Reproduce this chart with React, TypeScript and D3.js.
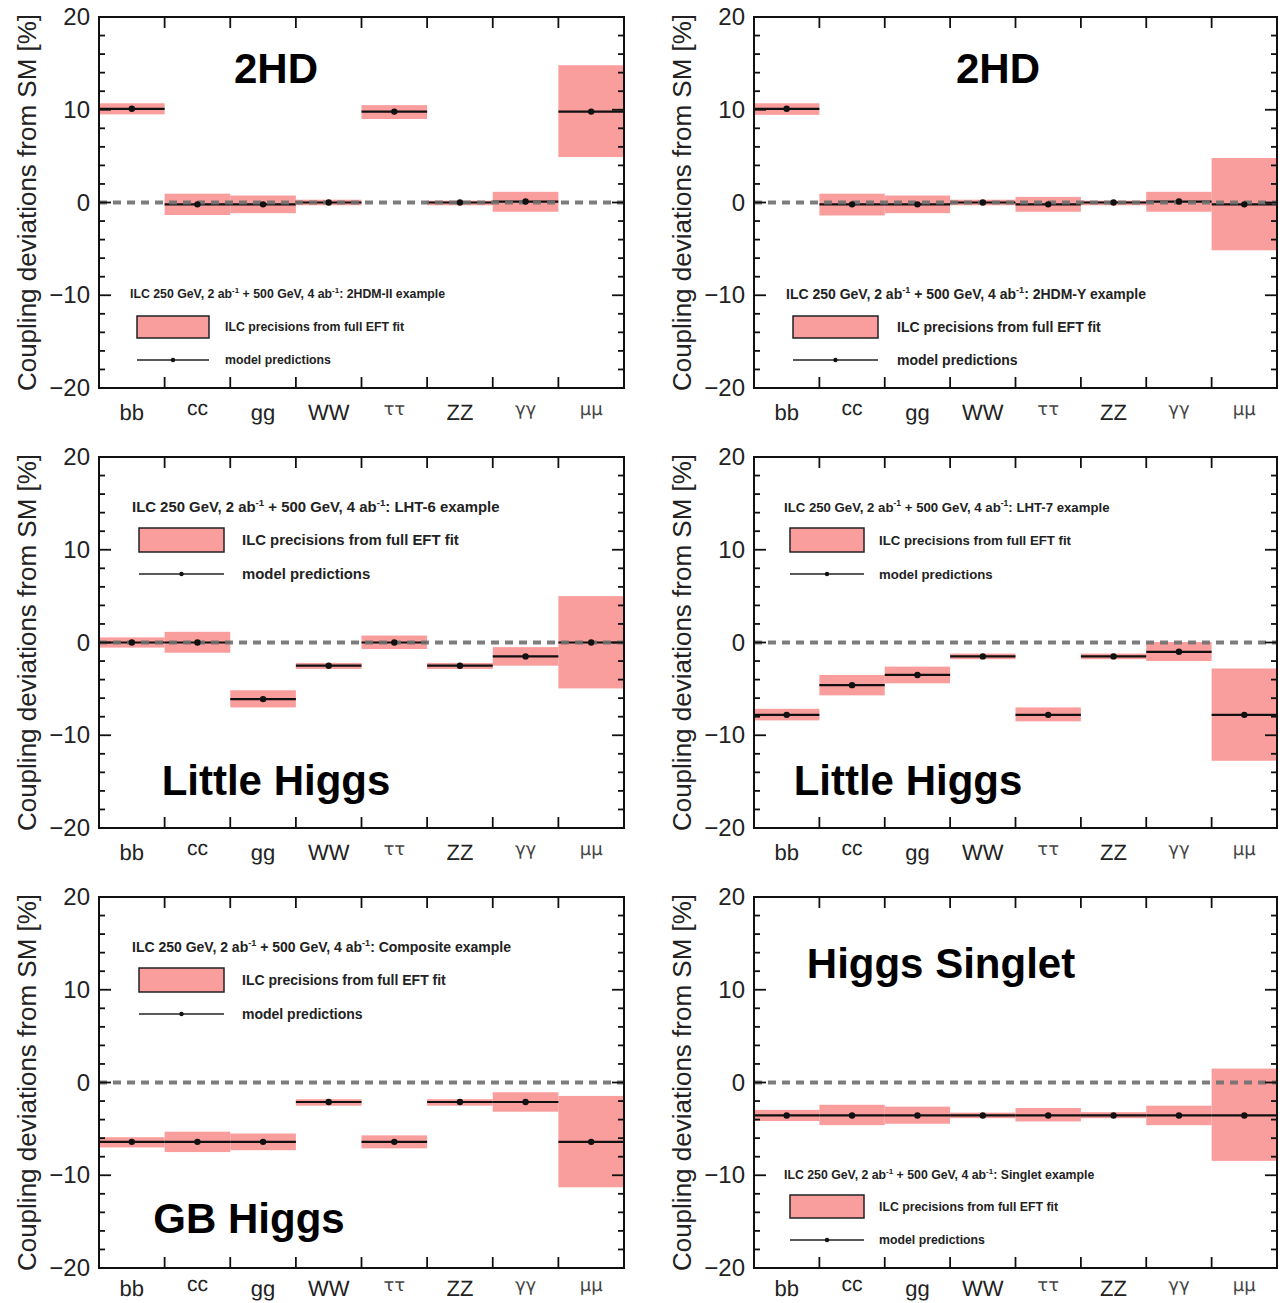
import React, { useEffect, useRef } from "react";
import * as d3 from "d3";

// coupling channels on the x axis
const categories = ["bb", "cc", "gg", "WW", "ττ", "ZZ", "γγ", "μμ"];
const yTicks = [20, 10, 0, -10, -20];

// 2HDM-II example
const pred2hdmII = [10.1, -0.2, -0.2, 0, 9.8, 0, 0.1, 9.8];
const low2hdmII = [9.5, -1.35, -1.15, -0.3, 9.0, -0.3, -1.0, 4.9];
const high2hdmII = [10.7, 0.95, 0.75, 0.3, 10.5, 0.2, 1.15, 14.8];

// 2HDM-Y example
const pred2hdmY = [10.1, -0.2, -0.2, 0, -0.2, 0, 0.1, -0.2];
const low2hdmY = [9.45, -1.4, -1.15, -0.3, -1.0, -0.3, -1.0, -5.15];
const high2hdmY = [10.7, 0.95, 0.75, 0.3, 0.6, 0.2, 1.15, 4.8];

// LHT-6 example
const predLHT6 = [0, 0, -6.1, -2.5, 0, -2.5, -1.5, 0];
const lowLHT6 = [-0.55, -1.1, -7.0, -2.85, -0.7, -2.85, -2.5, -4.95];
const highLHT6 = [0.55, 1.15, -5.15, -2.2, 0.75, -2.2, -0.5, 5.0];

// LHT-7 example
const predLHT7 = [-7.8, -4.6, -3.5, -1.5, -7.8, -1.5, -1.0, -7.8];
const lowLHT7 = [-8.4, -5.7, -4.4, -1.8, -8.5, -1.8, -2.0, -12.75];
const highLHT7 = [-7.15, -3.5, -2.6, -1.2, -7.0, -1.2, 0.05, -2.8];

// Composite example
const predComp = [-6.4, -6.4, -6.4, -2.1, -6.4, -2.1, -2.1, -6.4];
const lowComp = [-7.0, -7.5, -7.3, -2.5, -7.1, -2.5, -3.15, -11.3];
const highComp = [-5.9, -5.3, -5.5, -1.8, -5.7, -1.8, -1.05, -1.45];

// Singlet example
const predSinglet = [-3.55, -3.55, -3.55, -3.55, -3.55, -3.55, -3.55, -3.55];
const lowSinglet = [-4.15, -4.6, -4.45, -3.85, -4.2, -3.85, -4.6, -8.45];
const highSinglet = [-2.95, -2.4, -2.6, -3.25, -2.75, -3.2, -2.5, 1.5];

const PINK = "#fa9d9d";
const FONT = "'Liberation Sans', Arial, Helvetica, sans-serif";
const GREEK_FONT = "'DejaVu Sans', sans-serif";

const colX = [99, 754];
const colW = [525, 523];
const rowY = [17, 457, 897];
const frameH = 371;

const panels = [
  {
    col: 0, row: 0, model: "2HDM-II", pred: pred2hdmII, low: low2hdmII, high: high2hdmII,
    title: "2HD", titleX: 177, titleY: 66,
    legend: { x: 31, y: 277, boxX: 38, boxW: 72, boxY: 299, boxH: 22, textX: 126, lineY: 343, size: 12.3 },
  },
  {
    col: 1, row: 0, model: "2HDM-Y", pred: pred2hdmY, low: low2hdmY, high: high2hdmY,
    title: "2HD", titleX: 244, titleY: 66,
    legend: { x: 32, y: 277, boxX: 39, boxW: 85, boxY: 299, boxH: 22, textX: 143, lineY: 343, size: 14 },
  },
  {
    col: 0, row: 1, model: "LHT-6", pred: predLHT6, low: lowLHT6, high: highLHT6,
    title: "Little Higgs", titleX: 177, titleY: 338,
    legend: { x: 33, y: 50, boxX: 40, boxW: 85, boxY: 71, boxH: 24, textX: 143, lineY: 117, size: 14.9 },
  },
  {
    col: 1, row: 1, model: "LHT-7", pred: predLHT7, low: lowLHT7, high: highLHT7,
    title: "Little Higgs", titleX: 154, titleY: 338,
    legend: { x: 30, y: 50, boxX: 36, boxW: 74, boxY: 71, boxH: 24, textX: 125, lineY: 117, size: 13.2 },
  },
  {
    col: 0, row: 2, model: "Composite", pred: predComp, low: lowComp, high: highComp,
    title: "GB Higgs", titleX: 150, titleY: 336,
    legend: { x: 33, y: 50, boxX: 40, boxW: 85, boxY: 71, boxH: 24, textX: 143, lineY: 117, size: 14 },
  },
  {
    col: 1, row: 2, model: "Singlet", pred: predSinglet, low: lowSinglet, high: highSinglet,
    title: "Higgs Singlet", titleX: 187, titleY: 81,
    legend: { x: 30, y: 278, boxX: 36, boxW: 74, boxY: 298, boxH: 23, textX: 125, lineY: 343, size: 12.3 },
  },
];

const raisedLabels = new Set(["cc", "ττ", "γγ", "μμ"]);
const greekLabels = new Set(["ττ", "γγ", "μμ"]);

export default function App() {
  const ref = useRef<SVGSVGElement>(null);

  useEffect(() => {
    const svg = d3.select(ref.current);
    svg.selectAll("*").remove();

    panels.forEach((p) => {
      const w = colW[p.col];
      const h = frameH;
      const g = svg.append("g").attr("transform", `translate(${colX[p.col]},${rowY[p.row]})`);

      const x = d3.scaleBand().domain(categories).range([0, w]).padding(0);
      const y = d3.scaleLinear().domain([-20, 20]).range([h, 0]);

      // precision boxes
      g.selectAll("rect.prec")
        .data(categories)
        .join("rect")
        .attr("class", "prec")
        .attr("x", (c) => x(c)!)
        .attr("y", (_, i) => y(p.high[i]))
        .attr("width", x.bandwidth())
        .attr("height", (_, i) => y(p.low[i]) - y(p.high[i]))
        .attr("fill", PINK);

      // model prediction lines
      g.selectAll("line.pred")
        .data(categories)
        .join("line")
        .attr("class", "pred")
        .attr("x1", (c) => x(c)!)
        .attr("x2", (c) => x(c)! + x.bandwidth())
        .attr("y1", (_, i) => y(p.pred[i]))
        .attr("y2", (_, i) => y(p.pred[i]))
        .attr("stroke", "#111")
        .attr("stroke-width", 2.2);

      // SM reference
      g.append("line")
        .attr("x1", 0)
        .attr("x2", w)
        .attr("y1", y(0))
        .attr("y2", y(0))
        .attr("stroke", "#707070")
        .attr("stroke-width", 4)
        .attr("stroke-dasharray", "8,6")
        .attr("opacity", 0.9);

      g.selectAll("circle.pred")
        .data(categories)
        .join("circle")
        .attr("class", "pred")
        .attr("cx", (c) => x(c)! + x.bandwidth() / 2)
        .attr("cy", (_, i) => y(p.pred[i]))
        .attr("r", 3.2)
        .attr("fill", "#111");

      // frame
      g.append("rect")
        .attr("width", w)
        .attr("height", h)
        .attr("fill", "none")
        .attr("stroke", "#111")
        .attr("stroke-width", 2);

      // y ticks, both sides, inward
      d3.range(-20, 21, 2).forEach((v) => {
        const len = v % 10 === 0 ? 12 : 6;
        g.append("line").attr("x1", 0).attr("x2", len).attr("y1", y(v)).attr("y2", y(v))
          .attr("stroke", "#111").attr("stroke-width", 1.8);
        g.append("line").attr("x1", w).attr("x2", w - len).attr("y1", y(v)).attr("y2", y(v))
          .attr("stroke", "#111").attr("stroke-width", 1.8);
      });

      // x ticks at channel boundaries
      categories.slice(1).forEach((c) => {
        const xx = x(c)!;
        g.append("line").attr("x1", xx).attr("x2", xx).attr("y1", 0).attr("y2", 11)
          .attr("stroke", "#111").attr("stroke-width", 1.8);
        g.append("line").attr("x1", xx).attr("x2", xx).attr("y1", h).attr("y2", h - 11)
          .attr("stroke", "#111").attr("stroke-width", 1.8);
      });

      // y tick labels
      g.selectAll("text.ytick")
        .data(yTicks)
        .join("text")
        .attr("class", "ytick")
        .attr("x", -9)
        .attr("y", (d) => y(d) + 8)
        .attr("text-anchor", "end")
        .attr("font-family", FONT)
        .attr("font-size", 24)
        .attr("fill", "#222")
        .text((d) => (d < 0 ? `\u2212${Math.abs(d)}` : `${d}`));

      // channel labels (last row sits a little higher so it is not clipped)
      const labelOff = p.row === 2 ? 28 : 32;
      g.selectAll("text.cat")
        .data(categories)
        .join("text")
        .attr("class", "cat")
        .attr("x", (c) => x(c)! + x.bandwidth() / 2)
        .attr("y", (c) => h + labelOff - (raisedLabels.has(c) ? 5 : 0))
        .attr("text-anchor", "middle")
        .attr("font-family", (c) => (greekLabels.has(c) ? GREEK_FONT : FONT))
        .attr("font-size", (c) => (greekLabels.has(c) ? 18 : raisedLabels.has(c) ? 21 : 22))
        .attr("fill", (c) => (greekLabels.has(c) ? "#444" : "#222"))
        .style("text-rendering", "geometricPrecision")
        .text((c) => c);

      // y axis title
      g.append("text")
        .attr("transform", `translate(${-63},${h / 2}) rotate(-90)`)
        .attr("text-anchor", "middle")
        .attr("font-family", FONT)
        .attr("font-size", 26)
        .attr("fill", "#222")
        .text("Coupling deviations from SM [%]");

      // model name
      g.append("text")
        .attr("x", p.titleX)
        .attr("y", p.titleY)
        .attr("text-anchor", "middle")
        .attr("font-family", FONT)
        .attr("font-weight", "bold")
        .attr("font-size", 42)
        .attr("fill", "#000")
        .text(p.title);

      // legend
      const L = p.legend;
      const hdr = g.append("text")
        .attr("x", L.x)
        .attr("y", L.y + L.size * 0.35)
        .attr("font-family", FONT)
        .attr("font-weight", "bold")
        .attr("font-size", L.size)
        .attr("fill", "#222");
      hdr.append("tspan").text("ILC 250 GeV, 2 ab");
      hdr.append("tspan").attr("dy", -L.size * 0.4).attr("font-size", L.size * 0.65).text("-1");
      hdr.append("tspan").attr("dy", L.size * 0.4).text(" + 500 GeV, 4 ab");
      hdr.append("tspan").attr("dy", -L.size * 0.4).attr("font-size", L.size * 0.65).text("-1");
      hdr.append("tspan").attr("dy", L.size * 0.4).text(`: ${p.model} example`);

      g.append("rect")
        .attr("x", L.boxX)
        .attr("y", L.boxY)
        .attr("width", L.boxW)
        .attr("height", L.boxH)
        .attr("fill", PINK)
        .attr("stroke", "#222")
        .attr("stroke-width", 1.5);
      g.append("text")
        .attr("x", L.textX)
        .attr("y", L.boxY + L.boxH / 2 + L.size * 0.35)
        .attr("font-family", FONT)
        .attr("font-weight", "bold")
        .attr("font-size", L.size)
        .attr("fill", "#222")
        .text("ILC precisions from full EFT fit");

      g.append("line")
        .attr("x1", L.boxX)
        .attr("x2", L.boxX + L.boxW)
        .attr("y1", L.lineY)
        .attr("y2", L.lineY)
        .attr("stroke", "#222")
        .attr("stroke-width", 1.5);
      g.append("circle")
        .attr("cx", L.boxX + L.boxW / 2)
        .attr("cy", L.lineY)
        .attr("r", 2.2)
        .attr("fill", "#111");
      g.append("text")
        .attr("x", L.textX)
        .attr("y", L.lineY + L.size * 0.35)
        .attr("font-family", FONT)
        .attr("font-weight", "bold")
        .attr("font-size", L.size)
        .attr("fill", "#222")
        .text("model predictions");
    });
  }, []);

  return (
    <svg
      ref={ref}
      width={1285}
      height={1303}
      style={{ position: "absolute", left: 0, top: 0, background: "#fff" }}
    />
  );
}
